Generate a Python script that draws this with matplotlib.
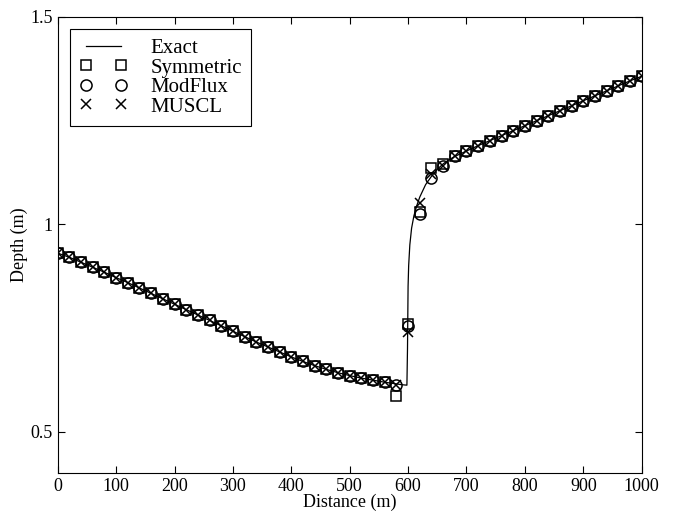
import matplotlib.pyplot as plt

plt.rcParams['font.family'] = ['Liberation Serif', 'DejaVu Serif']

# marker positions (every 20 m)
x = list(range(0, 1001, 20))
# x = 0 .. 560
left = [0.930, 0.920, 0.908, 0.896, 0.884, 0.871, 0.859, 0.846, 0.833, 0.820,
        0.807, 0.794, 0.781, 0.768, 0.755, 0.742, 0.729, 0.716, 0.704, 0.692,
        0.680, 0.669, 0.659, 0.650, 0.642, 0.635, 0.629, 0.624, 0.619]
# x = 680 .. 1000
right = [1.163, 1.176, 1.189, 1.201, 1.213, 1.225, 1.237, 1.249, 1.261,
         1.273, 1.285, 1.297, 1.309, 1.321, 1.333, 1.345, 1.356]

# values at x = 580, 600, 620, 640, 660
sym_jump = [0.585, 0.760, 1.030, 1.135, 1.145]
mod_jump = [0.612, 0.755, 1.025, 1.110, 1.140]
mus_jump = [0.612, 0.740, 1.050, 1.120, 1.140]

symmetric = left + sym_jump + right
modflux = left + mod_jump + right
muscl = left + mus_jump + right

# exact solution
jump_x = [580, 590, 598, 599, 600, 601, 603, 606, 610, 615, 620, 630, 640, 650, 660, 670]
jump_y = [0.615, 0.613, 0.612, 0.70, 0.85, 0.90, 0.95, 0.99, 1.02, 1.045, 1.065,
          1.095, 1.115, 1.132, 1.145, 1.155]
x_exact = list(range(0, 561, 20)) + jump_x + list(range(680, 1001, 20))
y_exact = left + jump_y + right

fig = plt.figure(figsize=(6.79, 5.16), dpi=100)
ax = fig.add_axes([0.085, 0.083, 0.86, 0.885])

ax.plot(x_exact, y_exact, color='black', lw=0.9, label='Exact')
ax.plot(x, symmetric, ls='none', marker='s', mfc='none', mec='black', ms=7, mew=1.1, label='Symmetric')
ax.plot(x, modflux, ls='none', marker='o', mfc='none', mec='black', ms=8, mew=1.1, label='ModFlux')
ax.plot(x, muscl, ls='none', marker='x', color='black', ms=7, mew=1.1, label='MUSCL')

ax.set_xlim(0, 1000)
ax.set_ylim(0.4, 1.5)
ax.set_xticks(range(0, 1001, 100))
ax.set_yticks([0.5, 1, 1.5])
ax.set_yticklabels(['0.5', '1', '1.5'])
ax.tick_params(direction='in', top=True, right=True, length=5, labelsize=13, width=0.8)
ax.set_xlabel('Distance (m)', fontsize=13, labelpad=-1)
ax.set_ylabel('Depth (m)', fontsize=13, labelpad=2)

leg = ax.legend(loc='upper left', numpoints=2, fontsize=15, handlelength=2.3,
                handletextpad=1.1, borderaxespad=0.6, labelspacing=0.0,
                borderpad=0.45, fancybox=False, framealpha=1, edgecolor='black')
leg.get_frame().set_linewidth(0.8)

plt.savefig('out.png', dpi=100)
